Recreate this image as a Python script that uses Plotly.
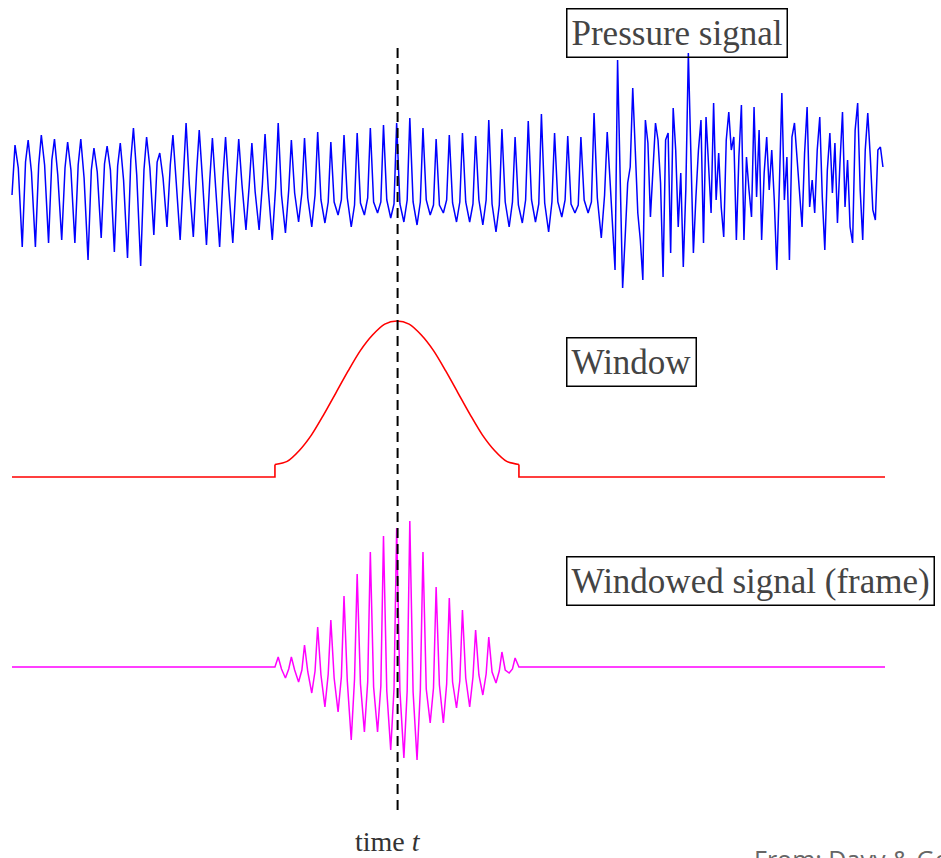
import numpy as np
import plotly.graph_objects as go

# ---------------- data ----------------
# time axis in ms; pitch period of the voiced pressure signal
period_ms = 5.0
first_peak_ms = 1.14
signal_end_ms = 331.7
window_start_ms = 99.9
window_end_ms = 192.6
frame_centre_ms = 146.5   # "time t"

# pressure signal, one value per cycle (arbitrary units)
pressure_peak = [45, 50, 55, 51, 48, 51, 42, 44, 47, 62, 53, 37, 55, 67, 60, 52, 53, 51, 47, 56,
                 67, 50, 52, 58, 48, 55, 57, 62, 65, 67, 72, 62, 51, 55, 57, 54, 70, 61, 53, 69,
                 76, 57, 54, 53, 77, 58]
pressure_plateau = [22, 18, 25, 15, 20, 12, 18, 20, 10, 15, 22, 12, 8, 5, 10, 2, 0, 5, -2, 0, -5, -3, -8,
                    -10, -12, -8, -13, -12, -10, -14, -12, -10, -15, -13, -12, -10, -14, -12, -15, -10,
                    -13, -12, -14, -10, -8]
pressure_trough = [-57, -57, -53, -50, -53, -70, -48, -62, -68, -76, -45, -37, -50, -47, -55, -57, -53,
                   -40, -40, -50, -43, -32, -37, -33, -25, -37, -25, -23, -28, -32, -35, -25, -23, -32,
                   -32, -35, -42, -37, -33, -32, -42, -27, -23, -23, -48]
pressure_shoulder = [28, 25, 30, 22, 25, 20, 26, 24, 30, 20, 28, 25, 15, 18, 10, 12, 8, 5, 6, 2, 0, -3, -5,
                     -12, -10, -15, -8, -12, -14, -10, -12, -15, -10, -12, -14, -10, -15, -12, -10, -14,
                     -12, -10, -15, -12, -5]
pressure_start = -5
# unvoiced / noisy part at the end (uniformly sampled)
noisy_start_ms = 227.2
noisy_end_ms = 330.9
pressure_noisy = [10, -30, -80, 130, 3, -98, -47, 7, 23, 102, 40, -23, -50, -90, 70, 47, -27, 23, 67, 50,
                  7, -87, 50, 57, -63, 82, 40, -37, 17, -77, 0, 137, 23, -63, -7, 40, 70, -53, 73, 17,
                  -23, 87, -10, 37, -17, -47, 50, 78, 40, 53, -50, 33, 85,
                  -50, 33, 0, -27, 83, -7, 60, -50, 17, 53, 0, 40, -10, -80, 3, 97, -10, 33, -70, 53,
                  67, 33, -3, -37, 37, 83, -17, 10, -23, 40, 73, -7, -60, 20, 57, -3, 47, -33, 27, 78,
                  -17, 30, -37, -53, 60, 87, 0, -50, 40, 77, 33, -20, -30, 40, 43, 23]

# analysis window (Hamming-like, on a pedestal)
window_values = [0.08, 0.10, 0.17, 0.27, 0.40, 0.54, 0.68, 0.81, 0.91, 0.98, 1.0,
                 0.98, 0.91, 0.81, 0.68, 0.54, 0.40, 0.27, 0.17, 0.10, 0.08]

# windowed signal (frame), cycles 20..38
frame_first_cycle = 20
frame_peak = [10, 10, 22, 40, 47, 71, 93, 115, 131, 139, 146, 115, 80, 69, 57, 37, 30, 15, 9]
frame_plateau = [-2, -3, -5, -8, -11, -14, -17, -20, -24, -24, -25, -22, -18, -15, -11, -8, -5, -3]
frame_trough = [-11, -15, -26, -40, -45, -73, -65, -65, -83, -91, -93, -56, -56, -41, -40, -28, -16, -6]
frame_shoulder = [-2, -3, -4, -7, -10, -12, -15, -19, -22, -24, -23, -21, -17, -14, -10, -7, -4, -2]

# phase (ms) of each sample within a cycle
phase_ms = [0.0, 1.25, 2.75, 4.0]

# ---------------- build series ----------------
t_p = [0.0]
v_p = [pressure_start]
for k in range(len(pressure_trough)):
    base = first_peak_ms + k * period_ms
    t_p += [base + ph for ph in phase_ms]
    v_p += [pressure_peak[k], pressure_plateau[k], pressure_trough[k], pressure_shoulder[k]]
t_p.append(first_peak_ms + len(pressure_trough) * period_ms)
v_p.append(pressure_peak[-1])
t_p += list(np.linspace(noisy_start_ms, noisy_end_ms, len(pressure_noisy)))
v_p += pressure_noisy

t_f = [0.0, window_start_ms]
v_f = [0, 0]
for j in range(len(frame_trough)):
    base = first_peak_ms + (frame_first_cycle + j) * period_ms
    t_f += [base + ph for ph in phase_ms]
    v_f += [frame_peak[j], frame_plateau[j], frame_trough[j], frame_shoulder[j]]
t_f.append(first_peak_ms + (frame_first_cycle + len(frame_trough)) * period_ms)
v_f.append(frame_peak[-1])
t_f += [window_end_ms, signal_end_ms]
v_f += [0, 0]

t_w = list(np.linspace(window_start_ms, window_end_ms, len(window_values)))

# ---------------- figure ----------------
fig = go.Figure()
fig.add_trace(go.Scatter(x=t_p, y=v_p, mode="lines", line=dict(color="#0000ff", width=1.5),
                         yaxis="y", hoverinfo="skip"))
fig.add_trace(go.Scatter(x=[0.0, window_start_ms, window_start_ms], y=[0, 0, window_values[0]],
                         mode="lines", line=dict(color="#ff0000", width=1.6), yaxis="y2"))
fig.add_trace(go.Scatter(x=t_w, y=window_values, mode="lines",
                         line=dict(color="#ff0000", width=1.6, shape="spline", smoothing=0.8), yaxis="y2"))
fig.add_trace(go.Scatter(x=[window_end_ms, window_end_ms, signal_end_ms], y=[window_values[-1], 0, 0],
                         mode="lines", line=dict(color="#ff0000", width=1.6), yaxis="y2"))
fig.add_trace(go.Scatter(x=t_f, y=v_f, mode="lines", line=dict(color="#ff00ff", width=1.5),
                         yaxis="y3", hoverinfo="skip"))

H = 858.0
W = 941.0

def py(px):
    return 1 - px / H

fig.add_shape(type="line", xref="x", yref="paper", x0=frame_centre_ms, x1=frame_centre_ms,
              y0=py(810), y1=py(45), line=dict(color="black", width=2, dash="10px,6px"))

serif = "Liberation Serif, Times New Roman, serif"
box = dict(xref="paper", yref="paper", xanchor="left", yanchor="top", showarrow=False,
           bordercolor="black", borderwidth=1.5, borderpad=4,
           font=dict(family=serif, size=35, color="#444444"))
fig.add_annotation(text="Pressure signal", x=566 / W, y=py(8), **box)
fig.add_annotation(text="Window", x=566 / W, y=py(337), **box)
fig.add_annotation(text="Windowed signal (frame)", x=566 / W, y=py(556), **box)
fig.add_annotation(text="time <i>t</i>", x=388 / W, y=py(841), xref="paper", yref="paper",
                   xanchor="center", yanchor="middle", showarrow=False,
                   font=dict(family=serif, size=28, color="#333333"))
fig.add_annotation(text="From: Davy &amp; Godsill", x=752 / W, y=py(840), xref="paper", yref="paper",
                   xanchor="left", yanchor="top", showarrow=False,
                   font=dict(family="Open Sans, sans-serif", size=25, color="#666666"))

fig.update_layout(
    width=941, height=858, margin=dict(l=0, r=0, t=0, b=0),
    paper_bgcolor="white", plot_bgcolor="white", showlegend=False,
    xaxis=dict(range=[-4.56, 352.96], domain=[0, 1], visible=False, showgrid=False, zeroline=False),
    yaxis=dict(domain=[py(300), py(30)], range=[-110, 160], visible=False, showgrid=False, zeroline=False),
    yaxis2=dict(domain=[py(490), py(305)], range=[-0.0833, 1.1026], visible=False, anchor="x",
                showgrid=False, zeroline=False),
    yaxis3=dict(domain=[py(790), py(500)], range=[-123, 167], visible=False, anchor="x",
                showgrid=False, zeroline=False),
)

fig.write_html("out.html", config={"displayModeBar": False},
               post_script="document.body.style.margin='0';document.body.style.overflow='hidden';")
